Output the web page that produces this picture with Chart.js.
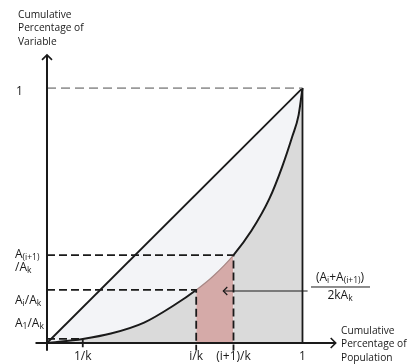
<!DOCTYPE html>
<html>
<head>
<meta charset="utf-8">
<script src="https://cdn.jsdelivr.net/npm/chart.js@4/dist/chart.umd.min.js"></script>
<style>
    html, body { margin: 0; padding: 0; background: #fff; }
    #wrap { width: 407px; height: 364px; }
</style>
</head>
<body>
<div id="wrap"><canvas id="lorenz"></canvas></div>
<script>
// values (share of population / share of variable, 0..1)
const xTicks = [0.14, 0.584, 0.73, 1];
const xTickLabels = ['1/k', 'i/k', '(i+1)/k', '1'];
const curveX = [0, 0.14, 0.25, 0.38, 0.5, 0.584, 0.65, 0.73, 0.8, 0.87, 0.92, 0.96, 0.985, 1];
const curveY = [0, 0.016, 0.037, 0.08, 0.15, 0.208, 0.262, 0.345, 0.44, 0.565, 0.69, 0.81, 0.895, 1];
const equalityX = [0, 1];
const equalityY = [0, 1];
const levelA1 = 0.016;
const levelAi = 0.208;
const levelAi1 = 0.345;
const arrowX = [1.02, 0.69];
const arrowY = 0.204;

const X_MIN = -0.045, X_MAX = 1.13;
const Y_MIN = -0.03, Y_MAX = 1.13;

const LIGHT = '#f3f4f7';
const GRAY = '#dadada';
const PINK = '#d5aaa8';
const INK = '#1a1a1a';
const TEXT_FONT = '10.2px "Open Sans", sans-serif';
const MAIN_FONT = '12px "Open Sans", sans-serif';
const SUB_FONT = '8.5px "Open Sans", sans-serif';

const pts = (xs, ys) => xs.map((x, i) => ({ x: x, y: ys[i] }));
const iStart = curveX.indexOf(xTicks[1]);
const iEnd = curveX.indexOf(xTicks[2]);
const inPink = c => c.p0DataIndex >= iStart && c.p1DataIndex <= iEnd;

// text with subscripts: parts = [[text, isSub], ...]
function drawRich(ctx, parts, x, y, align) {
    let w = 0;
    parts.forEach(p => { ctx.font = p[1] ? SUB_FONT : MAIN_FONT; w += ctx.measureText(p[0]).width; });
    let cx = align === 'center' ? x - w / 2 : x;
    ctx.textAlign = 'left';
    ctx.textBaseline = 'middle';
    parts.forEach(p => {
        ctx.font = p[1] ? SUB_FONT : MAIN_FONT;
        ctx.fillText(p[0], cx, p[1] ? y + 3 : y);
        cx += ctx.measureText(p[0]).width;
    });
}

function chevron(ctx, x, y, dir, size) {
    ctx.beginPath();
    if (dir === 'up') {
        ctx.moveTo(x - size, y + size); ctx.lineTo(x, y); ctx.lineTo(x + size, y + size);
    } else if (dir === 'right') {
        ctx.moveTo(x - size, y - size); ctx.lineTo(x, y); ctx.lineTo(x - size, y + size);
    } else {
        ctx.moveTo(x + size, y - size); ctx.lineTo(x, y); ctx.lineTo(x + size, y + size);
    }
    ctx.stroke();
}

const sketchPlugin = {
    id: 'sketch',
    afterDatasetsDraw(chart) {
        const ctx = chart.ctx;
        const xs = chart.scales.x, ys = chart.scales.y;
        const x0 = xs.getPixelForValue(0), y0 = ys.getPixelForValue(0);
        ctx.save();
        ctx.strokeStyle = INK;
        ctx.fillStyle = INK;
        ctx.lineWidth = 2;
        ctx.lineCap = 'butt';

        // axes
        ctx.beginPath();
        ctx.moveTo(x0, ys.getPixelForValue(Y_MIN));
        ctx.lineTo(x0, ys.getPixelForValue(Y_MAX));
        ctx.moveTo(xs.getPixelForValue(X_MIN), y0);
        ctx.lineTo(xs.getPixelForValue(X_MAX), y0);
        ctx.stroke();
        ctx.lineWidth = 1.6;
        chevron(ctx, x0, ys.getPixelForValue(Y_MAX), 'up', 5);
        chevron(ctx, xs.getPixelForValue(X_MAX), y0, 'right', 5);

        // x tick labels
        ctx.font = MAIN_FONT;
        ctx.textAlign = 'center';
        ctx.textBaseline = 'middle';
        xTicks.forEach((v, i) => ctx.fillText(xTickLabels[i], xs.getPixelForValue(v), 357));

        // y labels
        drawRich(ctx, [['1', false]], 16, ys.getPixelForValue(1) + 4, 'left');
        drawRich(ctx, [['A', false], ['(i+1)', true]], 15, ys.getPixelForValue(levelAi1), 'left');
        drawRich(ctx, [['/A', false], ['k', true]], 15, ys.getPixelForValue(levelAi1) + 13, 'left');
        drawRich(ctx, [['A', false], ['i', true], ['/A', false], ['k', true]], 15, ys.getPixelForValue(levelAi) + 11, 'left');
        drawRich(ctx, [['A', false], ['1', true], ['/A', false], ['k', true]], 15, ys.getPixelForValue(levelA1) - 15, 'left');

        // axis titles
        ctx.font = TEXT_FONT;
        ctx.textAlign = 'left';
        ['Cumulative', 'Percentage of', 'Variable'].forEach((t, i) => ctx.fillText(t, 18, 15 + i * 13.5));
        ['Cumulative', 'Percentage of', 'Population'].forEach((t, i) => ctx.fillText(t, 341, 331 + i * 13.5));

        // annotation arrow + fraction
        const ay = ys.getPixelForValue(arrowY);
        const ax1 = xs.getPixelForValue(arrowX[0]), ax2 = xs.getPixelForValue(arrowX[1]);
        ctx.lineWidth = 1.2;
        ctx.beginPath();
        ctx.moveTo(ax1, ay);
        ctx.lineTo(ax2, ay);
        ctx.stroke();
        chevron(ctx, ax2, ay, 'left', 4);
        const fx = 340;
        drawRich(ctx, [['(A', false], ['i', true], ['+A', false], ['(i+1)', true], [')', false]], fx, ay - 13, 'center');
        ctx.lineWidth = 1;
        ctx.beginPath();
        ctx.moveTo(311, ay - 4);
        ctx.lineTo(370, ay - 4);
        ctx.stroke();
        drawRich(ctx, [['2kA', false], ['k', true]], fx, ay + 5, 'center');
        ctx.restore();
    }
};

const dashed = {
    borderColor: INK,
    borderWidth: 1.8,
    borderDash: [8, 4],
    pointRadius: 0,
    fill: false,
    tension: 0
};

new Chart(document.getElementById('lorenz').getContext('2d'), {
    type: 'line',
    data: {
        datasets: [
            {
                label: 'Equality',
                data: pts(equalityX, equalityY),
                borderColor: INK,
                borderWidth: 1.8,
                backgroundColor: LIGHT,
                fill: 'origin',
                pointRadius: 0,
                order: 6
            },
            {
                label: 'Lorenz curve',
                data: pts(curveX, curveY),
                borderColor: INK,
                borderWidth: 2,
                backgroundColor: GRAY,
                fill: 'origin',
                pointRadius: 0,
                cubicInterpolationMode: 'monotone',
                segment: {
                    backgroundColor: c => inPink(c) ? PINK : undefined,
                    borderColor: c => inPink(c) ? '#a88886' : undefined,
                    borderWidth: c => inPink(c) ? 1.2 : undefined
                },
                order: 5
            },
            {
                label: 'x = 1',
                data: [{ x: 1, y: 0 }, { x: 1, y: 1 }],
                borderColor: INK,
                borderWidth: 1.8,
                pointRadius: 0,
                fill: false,
                order: 4
            },
            {
                label: 'y = 1',
                data: [{ x: 0, y: 1 }, { x: 1, y: 1 }],
                borderColor: '#9a9a9a',
                borderWidth: 1.8,
                borderDash: [9, 5],
                pointRadius: 0,
                fill: false,
                order: 4
            },
            Object.assign({ label: 'A(i+1)/Ak', order: 3,
                data: [{ x: 0, y: levelAi1 }, { x: xTicks[2], y: levelAi1 }, { x: xTicks[2], y: Y_MIN }] }, dashed),
            Object.assign({ label: 'Ai/Ak', order: 3,
                data: [{ x: 0, y: levelAi }, { x: xTicks[1], y: levelAi }, { x: xTicks[1], y: Y_MIN }] }, dashed),
            Object.assign({ label: 'A1/Ak', order: 3,
                data: [{ x: 0, y: levelA1 }, { x: xTicks[0], y: levelA1 }, { x: xTicks[0], y: Y_MIN }] }, dashed)
        ]
    },
    options: {
        responsive: true,
        maintainAspectRatio: false,
        animation: false,
        events: [],
        layout: { padding: { left: 35.5, right: 71.3, top: 54.9, bottom: 13.35 } },
        scales: {
            x: { type: 'linear', min: X_MIN, max: X_MAX, display: false },
            y: { type: 'linear', min: Y_MIN, max: Y_MAX, display: false }
        },
        plugins: {
            legend: { display: false },
            tooltip: { enabled: false }
        }
    },
    plugins: [sketchPlugin]
});
</script>
</body>
</html>
